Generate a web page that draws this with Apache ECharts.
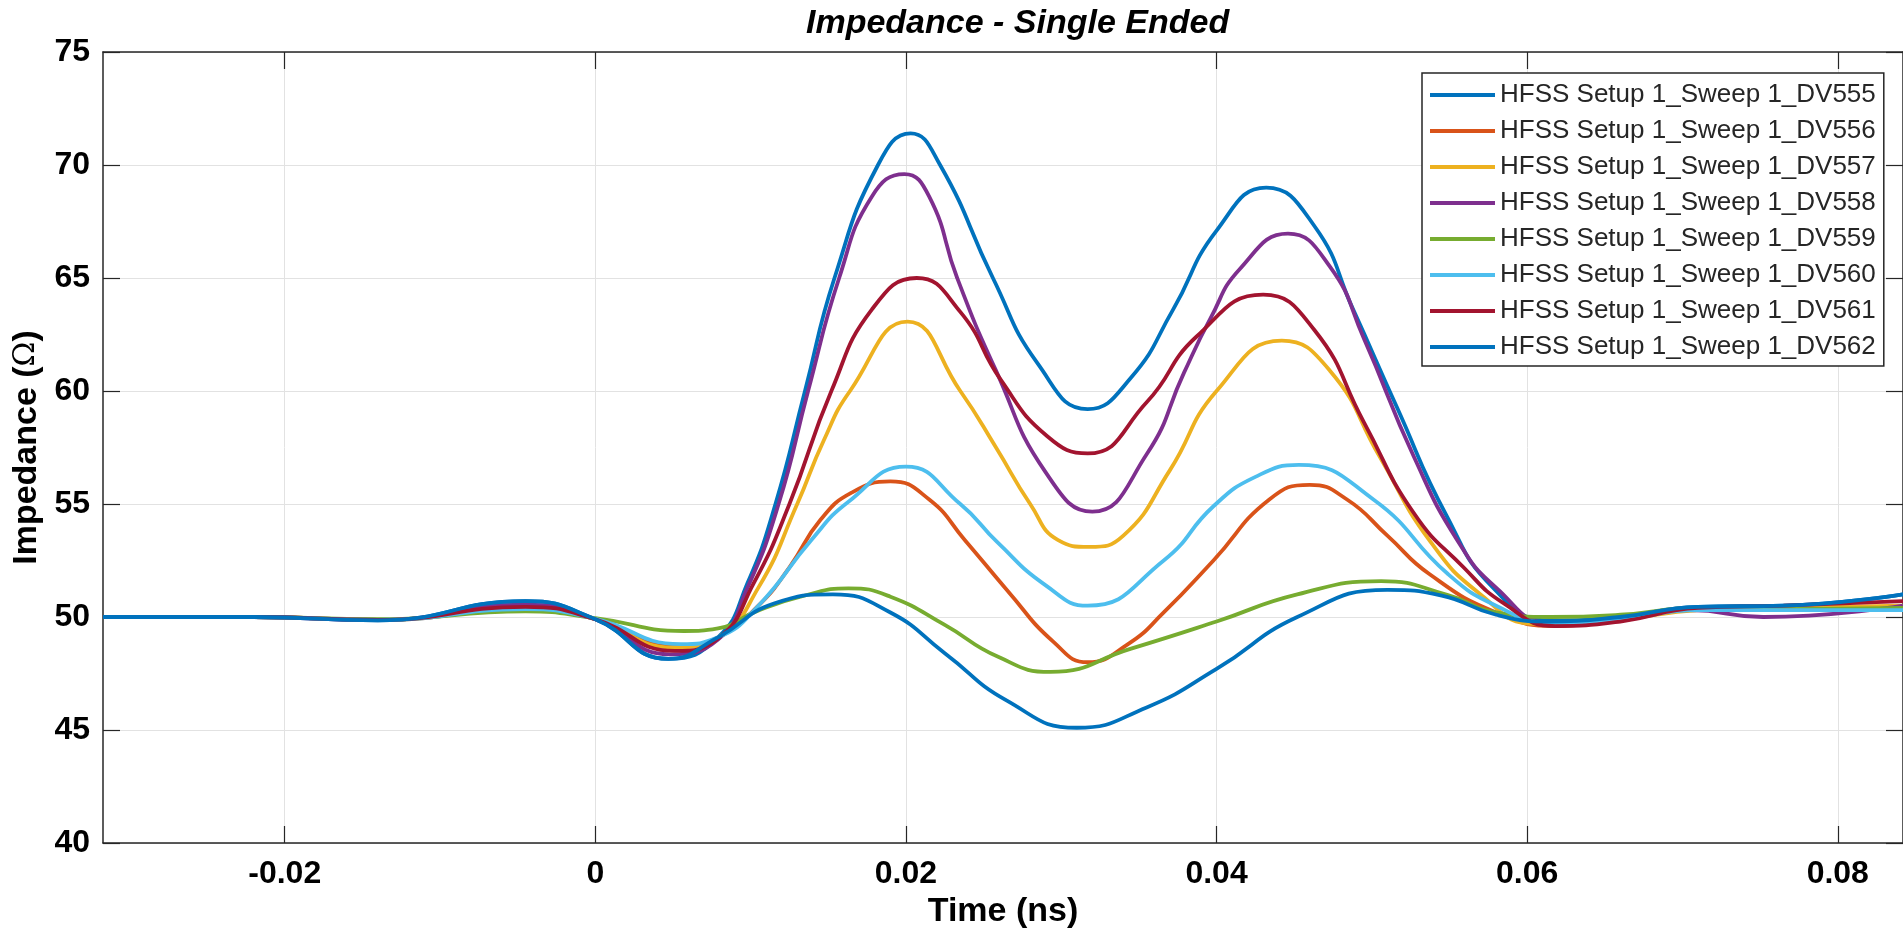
<!DOCTYPE html>
<html>
<head>
<meta charset="utf-8">
<script src="https://cdn.jsdelivr.net/npm/echarts@6/dist/echarts.min.js"></script>
<style>
html,body{margin:0;padding:0;background:#fff;}
#chart{width:1903px;height:940px;}
</style>
</head>
<body>
<div id="chart"></div>
<script>
// Series names (legend)
const seriesNames = ['HFSS Setup 1_Sweep 1_DV555','HFSS Setup 1_Sweep 1_DV556','HFSS Setup 1_Sweep 1_DV557',
  'HFSS Setup 1_Sweep 1_DV558','HFSS Setup 1_Sweep 1_DV559','HFSS Setup 1_Sweep 1_DV560',
  'HFSS Setup 1_Sweep 1_DV561','HFSS Setup 1_Sweep 1_DV562'];

// Read-off samples: time (ns) and impedance (ohm) per series
const t555 = [-0.0317,-0.022,-0.014,-0.0045,0,0.0047,0.0079,0.0098,0.0116,0.0135,0.0154,0.0182,0.0203,0.0222,0.0256,0.0285,0.0317,0.0345,0.0372,0.040,0.0432,0.0463,0.0488,0.0516,0.0548,0.0578,0.0615,0.066,0.071,0.0765,0.0842];
const z555 = [50.0,50.0,49.85,50.7,49.9,48.15,49.1,51.5,55.0,60.0,65.0,70.0,71.4,70.0,65.0,61.2,59.2,60.6,63.6,67.1,69.0,67.3,63.6,59.3,54.5,51.3,49.85,50.0,50.45,50.5,51.0];

const t556 = [-0.0317,-0.022,-0.014,-0.0045,0,0.0052,0.0079,0.0105,0.0125,0.0145,0.0165,0.019,0.0215,0.0238,0.0265,0.0295,0.0317,0.0343,0.0366,0.0398,0.0434,0.046,0.0484,0.051,0.0537,0.058,0.0618,0.066,0.071,0.0765,0.0842];
const z556 = [50.0,50.0,49.87,50.35,49.92,48.7,49.1,50.5,52.2,54.3,55.5,56.0,55.2,53.4,51.2,48.9,48.0,48.8,50.2,52.5,55.2,55.85,55.2,53.6,51.9,50.2,49.6,49.9,50.3,50.3,50.3];

const t557 = [-0.0317,-0.022,-0.014,-0.0045,0,0.005,0.0079,0.0105,0.013,0.0147,0.0164,0.0201,0.0235,0.0258,0.028,0.0298,0.0318,0.034,0.037,0.040,0.0442,0.0473,0.0505,0.0537,0.057,0.0605,0.066,0.071,0.0765,0.0842];
const z557 = [50.0,50.0,49.87,50.4,49.9,48.65,49.1,51.3,55.0,57.8,60.0,63.07,60.0,57.5,55.0,53.4,53.1,53.6,56.5,60.0,62.23,60.9,57.1,53.4,51.0,49.7,49.9,50.3,50.4,50.5];

const t558 = [-0.0317,-0.022,-0.014,-0.0045,0,0.0048,0.0079,0.0098,0.0118,0.0137,0.0157,0.0178,0.0199,0.0215,0.0233,0.0258,0.029,0.032,0.0355,0.0379,0.0396,0.0415,0.0446,0.0473,0.0495,0.0527,0.0555,0.058,0.0615,0.066,0.0705,0.0752,0.0842];
const z558 = [50.0,50.0,49.86,50.55,49.9,48.35,49.0,51.3,55.0,60.0,65.0,68.6,69.6,68.6,65.0,60.9,56.4,54.66,57.2,60.8,63.2,65.4,66.96,65.5,62.3,57.1,53.4,51.3,49.75,49.9,50.3,50.0,50.5];

const t559 = [-0.0317,-0.022,-0.014,-0.0045,0,0.0057,0.0079,0.0104,0.0135,0.0163,0.019,0.0225,0.0259,0.0293,0.0345,0.040,0.0452,0.0506,0.0549,0.058,0.0615,0.066,0.071,0.0765,0.0842];
const z559 = [50.0,50.0,49.9,50.25,49.95,49.38,49.5,50.26,50.95,51.27,50.9,49.65,48.25,47.57,48.6,49.8,51.0,51.59,50.97,50.2,50.0,50.1,50.4,50.35,50.4];

const t560 = [-0.0317,-0.022,-0.014,-0.0045,0,0.0055,0.0079,0.0105,0.0139,0.0163,0.020,0.0235,0.0259,0.029,0.0317,0.0366,0.0398,0.0425,0.0453,0.0501,0.0549,0.058,0.0615,0.066,0.071,0.0765,0.0842];
const z560 = [50.0,50.0,49.87,50.35,49.92,48.8,49.1,50.5,53.4,55.1,56.65,55.0,53.3,51.4,50.5,52.5,54.9,56.2,56.73,55.2,51.9,50.5,49.75,49.9,50.3,50.3,50.3];

const t561 = [-0.0317,-0.022,-0.014,-0.0045,0,0.0051,0.0079,0.0102,0.0125,0.0152,0.0178,0.0207,0.0235,0.0261,0.0291,0.0317,0.0355,0.0387,0.043,0.0463,0.0495,0.0527,0.0559,0.0585,0.0618,0.066,0.071,0.0765,0.0842];
const z561 = [50.0,50.0,49.87,50.45,49.9,48.5,49.05,51.5,55.0,60.0,63.6,65.0,63.5,60.5,58.0,57.24,59.5,62.4,64.26,62.7,58.6,54.6,52.2,50.6,49.6,49.8,50.4,50.5,50.7];

const t562 = [-0.0317,-0.022,-0.014,-0.0045,0,0.0047,0.0079,0.0115,0.0153,0.019,0.0225,0.0265,0.031,0.0355,0.040,0.0452,0.051,0.0545,0.058,0.0615,0.066,0.071,0.0765,0.0842];
const z562 = [50.0,50.0,49.85,50.7,49.9,48.15,49.1,50.6,51.0,50.2,48.4,46.3,45.1,46.0,47.7,50.0,51.2,50.95,50.1,49.8,50.0,50.45,50.5,51.0];

const xTickValues = [-0.02, 0, 0.02, 0.04, 0.06, 0.08];
const xTickLabels = ['-0.02', '0', '0.02', '0.04', '0.06', '0.08'];

const seriesT = [t555, t556, t557, t558, t559, t560, t561, t562];
const seriesZ = [z555, z556, z557, z558, z559, z560, z561, z562];
const colors = ['#0072BD','#D95319','#EDB120','#7E2F8E','#77AC30','#4DBEEE','#A2142F','#0072BD'];

const FONT = '"Liberation Sans", Arial, Helvetica, sans-serif';
const INK = '#262626';

const chart = echarts.init(document.getElementById('chart'), null, {renderer: 'canvas'});

const series = seriesZ.map((vals, i) => ({
  name: seriesNames[i],
  type: 'line',
  xAxisIndex: 0,
  yAxisIndex: 0,
  data: vals.map((v, k) => [seriesT[i][k], v]),
  showSymbol: false,
  smooth: 0.5,
  lineStyle: {width: 3.8, color: colors[i]},
  itemStyle: {color: colors[i]},
  emphasis: {disabled: true}
}));

const tickStyle = {show: true, inside: true, length: 17, lineStyle: {color: INK, width: 1.2}};

chart.setOption({
  animation: false,
  backgroundColor: '#ffffff',
  title: {
    text: 'Impedance - Single Ended',
    left: 801,
    top: 2,
    textStyle: {fontFamily: FONT, fontSize: 34, fontWeight: 'bold', fontStyle: 'italic', color: '#000'}
  },
  grid: {left: 103, top: 52, right: 0, bottom: 97, containLabel: false},
  legend: {
    orient: 'vertical',
    left: 1422,
    top: 73,
    padding: [9, 8, 6, 8],
    itemGap: 10,
    itemWidth: 65,
    itemHeight: 4,
    icon: 'rect',
    backgroundColor: '#ffffff',
    borderColor: INK,
    borderWidth: 1.5,
    textStyle: {fontFamily: FONT, fontSize: 26, color: INK},
    data: seriesNames
  },
  xAxis: [{
    type: 'value',
    min: -0.0317,
    max: 0.0842,
    position: 'bottom',
    name: 'Time (ns)',
    nameLocation: 'middle',
    nameGap: 52,
    nameTextStyle: {fontFamily: FONT, fontSize: 34, fontWeight: 'bold', color: '#000'},
    axisLine: {show: true, onZero: false, lineStyle: {color: INK, width: 1.5}},
    axisTick: Object.assign({customValues: xTickValues}, tickStyle),
    axisLabel: {
      customValues: xTickValues,
      margin: 15,
      fontFamily: FONT, fontSize: 32, fontWeight: 'bold', color: '#000',
      formatter: (v) => xTickLabels[xTickValues.findIndex(t => Math.abs(t - v) < 1e-9)] ?? String(v)
    },
    splitLine: {show: true, lineStyle: {color: '#e2e2e2', width: 1}}
  }, {
    type: 'value',
    min: -0.0317,
    max: 0.0842,
    position: 'top',
    axisLine: {show: true, onZero: false, lineStyle: {color: INK, width: 1.5}},
    axisTick: Object.assign({customValues: xTickValues}, tickStyle),
    axisLabel: {show: false, customValues: xTickValues},
    splitLine: {show: false}
  }],
  yAxis: [{
    type: 'value',
    min: 40,
    max: 75,
    interval: 5,
    position: 'left',
    name: '{b|Impedance (}{o|Ω}{b|)}',
    nameLocation: 'middle',
    nameGap: 54,
    nameRotate: 90,
    nameTextStyle: {
      fontFamily: FONT, fontSize: 34, fontWeight: 'bold', color: '#000',
      rich: {
        b: {fontFamily: FONT, fontSize: 34, fontWeight: 'bold', color: '#000'},
        o: {fontFamily: '"DejaVu Serif", serif', fontSize: 30, fontWeight: 'normal', color: '#000'}
      }
    },
    axisLine: {show: true, onZero: false, lineStyle: {color: INK, width: 1.5}},
    axisTick: tickStyle,
    axisLabel: {margin: 13, fontFamily: FONT, fontSize: 32, fontWeight: 'bold', color: '#000'},
    splitLine: {show: true, lineStyle: {color: '#e2e2e2', width: 1}}
  }, {
    type: 'value',
    min: 40,
    max: 75,
    interval: 5,
    position: 'right',
    axisLine: {show: true, onZero: false, lineStyle: {color: INK, width: 1.5}},
    axisTick: tickStyle,
    axisLabel: {show: false},
    splitLine: {show: false}
  }],
  series: series
});
</script>
</body>
</html>
